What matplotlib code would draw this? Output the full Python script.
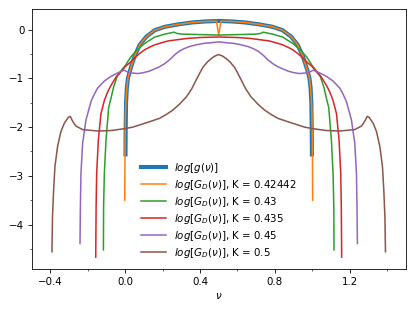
import matplotlib
matplotlib.use("Agg")
import matplotlib.pyplot as plt
from matplotlib.ticker import MultipleLocator

# log[g(nu)]
g_x = [0.002, 0.003, 0.005, 0.009, 0.015, 0.025, 0.034, 0.051, 0.078, 0.114, 0.159, 0.212, 0.284, 0.36, 0.43,
       0.5,
       0.57, 0.64, 0.716, 0.788, 0.841, 0.886, 0.922, 0.949, 0.966, 0.975, 0.985, 0.991, 0.995, 0.997, 0.998]
g_y = [-2.56, -2.0, -1.5, -1.2, -1.0, -0.85, -0.74, -0.54, -0.31, -0.14, -0.01, 0.06, 0.11, 0.15, 0.17,
       0.18,
       0.17, 0.15, 0.11, 0.06, -0.01, -0.14, -0.31, -0.54, -0.74, -0.85, -1.0, -1.2, -1.5, -2.0, -2.56]

# K = 0.42442
k1_x = [-0.002, -0.001, 0.0, 0.002, 0.005, 0.009, 0.015, 0.025, 0.034, 0.051, 0.078, 0.114, 0.159, 0.212, 0.284, 0.36, 0.43, 0.488,
        0.5,
        0.512, 0.57, 0.64, 0.716, 0.788, 0.841, 0.886, 0.922, 0.949, 0.966, 0.975, 0.985, 0.991, 0.995, 0.998, 1.0, 1.001, 1.002]
k1_y = [-3.5, -2.8, -2.2, -1.7, -1.45, -1.2, -1.0, -0.85, -0.74, -0.54, -0.31, -0.14, -0.01, 0.06, 0.11, 0.15, 0.17, 0.175,
        -0.11,
        0.175, 0.17, 0.15, 0.11, 0.06, -0.01, -0.14, -0.31, -0.54, -0.74, -0.85, -1.0, -1.2, -1.45, -1.7, -2.2, -2.8, -3.5]

# K = 0.43
k2_x = [-0.116, -0.115, -0.111, -0.102, -0.088, -0.075, -0.062, -0.04, 0.0, 0.03, 0.06, 0.105, 0.159, 0.212, 0.25, 0.262, 0.275, 0.30, 0.35, 0.40, 0.45,
        0.5,
        0.55, 0.60, 0.65, 0.70, 0.725, 0.738, 0.75, 0.788, 0.841, 0.895, 0.94, 0.97, 1.0, 1.04, 1.062, 1.075, 1.088, 1.102, 1.111, 1.115, 1.116]
k2_y = [-4.52, -3.63, -2.95, -2.26, -1.6, -1.4, -1.18, -0.93, -0.74, -0.56, -0.43, -0.28, -0.15, -0.09, -0.06, -0.05, -0.075, -0.09, -0.095, -0.10, -0.105,
        -0.11,
        -0.105, -0.10, -0.095, -0.09, -0.075, -0.05, -0.06, -0.09, -0.15, -0.28, -0.43, -0.56, -0.74, -0.93, -1.18, -1.4, -1.6, -2.26, -2.95, -3.63, -4.52]

# K = 0.435
k3_x = [-0.157, -0.155, -0.152, -0.143, -0.129, -0.11, -0.09, -0.075, -0.048, -0.03, 0.0, 0.03, 0.05, 0.077, 0.105, 0.13, 0.159, 0.184, 0.23, 0.29, 0.33, 0.4,
        0.5,
        0.6, 0.67, 0.71, 0.77, 0.816, 0.841, 0.87, 0.895, 0.923, 0.95, 0.97, 1.0, 1.03, 1.048, 1.075, 1.09, 1.11, 1.129, 1.143, 1.152, 1.155, 1.157]
k3_y = [-4.67, -3.63, -2.95, -2.26, -1.72, -1.44, -1.25, -1.14, -0.97, -0.9, -0.76, -0.66, -0.58, -0.49, -0.41, -0.36, -0.31, -0.28, -0.23, -0.2, -0.18, -0.16,
        -0.15,
        -0.16, -0.18, -0.2, -0.23, -0.28, -0.31, -0.36, -0.41, -0.49, -0.58, -0.66, -0.76, -0.9, -0.97, -1.14, -1.25, -1.44, -1.72, -2.26, -2.95, -3.63, -4.67]

# K = 0.45
k4_x = [-0.241, -0.239, -0.236, -0.227, -0.209, -0.182, -0.164, -0.147, -0.11, -0.08, -0.057, -0.03, -0.005, 0.014, 0.04, 0.07, 0.10, 0.13, 0.166, 0.184, 0.21, 0.237, 0.255, 0.273, 0.29, 0.309, 0.34, 0.38, 0.42, 0.452,
        0.5,
        0.548, 0.58, 0.62, 0.66, 0.691, 0.71, 0.727, 0.745, 0.763, 0.79, 0.816, 0.834, 0.87, 0.90, 0.93, 0.96, 0.986, 1.005, 1.03, 1.057, 1.08, 1.11, 1.147, 1.164, 1.182, 1.209, 1.227, 1.236, 1.239, 1.241]
k4_y = [-4.39, -3.63, -2.95, -2.33, -1.85, -1.47, -1.32, -1.2, -1.05, -0.97, -0.92, -0.87, -0.83, -0.87, -0.89, -0.9, -0.88, -0.85, -0.79, -0.76, -0.70, -0.62, -0.55, -0.49, -0.44, -0.40, -0.35, -0.31, -0.28, -0.27,
        -0.25,
        -0.27, -0.28, -0.31, -0.35, -0.40, -0.44, -0.49, -0.55, -0.62, -0.70, -0.76, -0.79, -0.85, -0.88, -0.9, -0.89, -0.87, -0.83, -0.87, -0.92, -0.97, -1.05, -1.2, -1.32, -1.47, -1.85, -2.33, -2.95, -3.63, -4.39]

# K = 0.5
k5_x = [-0.391, -0.388, -0.382, -0.375, -0.361, -0.343, -0.325, -0.304, -0.293, -0.283, -0.272, -0.262, -0.227, -0.147, -0.075, 0.0, 0.041, 0.13, 0.184, 0.22, 0.255, 0.29, 0.327, 0.355, 0.38, 0.40, 0.416, 0.44, 0.461, 0.48,
        0.5,
        0.52, 0.539, 0.56, 0.584, 0.60, 0.62, 0.645, 0.673, 0.71, 0.745, 0.78, 0.816, 0.87, 0.959, 1.0, 1.075, 1.147, 1.227, 1.262, 1.272, 1.283, 1.293, 1.304, 1.325, 1.343, 1.361, 1.375, 1.382, 1.388, 1.391]
k5_y = [-4.56, -3.84, -3.29, -2.81, -2.40, -2.09, -1.92, -1.8, -1.78, -1.86, -1.93, -1.98, -2.05, -2.08, -2.07, -2.03, -2.0, -1.89, -1.82, -1.74, -1.65, -1.53, -1.38, -1.22, -1.03, -0.88, -0.77, -0.66, -0.59, -0.54,
        -0.51,
        -0.54, -0.59, -0.66, -0.77, -0.88, -1.03, -1.22, -1.38, -1.53, -1.65, -1.74, -1.82, -1.89, -2.0, -2.03, -2.07, -2.08, -2.05, -1.98, -1.93, -1.86, -1.78, -1.8, -1.92, -2.09, -2.40, -2.81, -3.29, -3.84, -4.56]

K_labels = ["0.42442", "0.43", "0.435", "0.45", "0.5"]

DPI = 74
fig = plt.figure(figsize=(415 / DPI, 311 / DPI), dpi=DPI)
ax = fig.add_axes([0.076, 0.134, 0.902, 0.837])

ax.plot(g_x, g_y, color="C0", lw=4, label=r"$log[g(\nu)]$")
series = [(k1_x, k1_y), (k2_x, k2_y), (k3_x, k3_y), (k4_x, k4_y), (k5_x, k5_y)]
for i, ((xs, ys), k) in enumerate(zip(series, K_labels)):
    ax.plot(xs, ys, color=f"C{i+1}", lw=1.5, label=r"$log[G_D(\nu)]$, K = " + k)

ax.set_xlim(-0.5, 1.5)
ax.set_ylim(-4.92, 0.425)
ax.xaxis.set_major_locator(MultipleLocator(0.4))
ax.xaxis.set_minor_locator(MultipleLocator(0.2))
ax.yaxis.set_major_locator(MultipleLocator(1))
ax.yaxis.set_minor_locator(MultipleLocator(0.5))
ax.set_xlabel(r"$\nu$")
ax.legend(loc="lower center", frameon=False, labelspacing=0.3, handlelength=2.4)

fig.savefig("out.png", dpi=DPI)
